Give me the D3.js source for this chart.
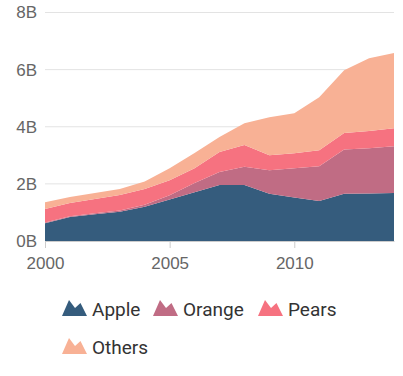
<!DOCTYPE html>
<html><head><meta charset="utf-8">
<script src="https://cdn.jsdelivr.net/npm/d3@7"></script>
<style>body{margin:0;background:#fff;}svg{display:block;font-family:Roboto,sans-serif;}</style>
</head><body><svg id="c" width="403" height="376"></svg>
<script>
const years = [2000,2001,2002,2003,2004,2005,2006,2007,2008,2009,2010,2011,2012,2013,2014];
const apple  = [0.62,0.84,0.94,1.02,1.20,1.45,1.71,1.96,1.96,1.65,1.52,1.40,1.65,1.66,1.68];
const orange = [0.03,0.03,0.03,0.05,0.07,0.15,0.32,0.46,0.64,0.83,1.03,1.22,1.55,1.59,1.64];
const pears  = [0.47,0.46,0.50,0.54,0.55,0.53,0.52,0.70,0.76,0.52,0.52,0.56,0.58,0.60,0.63];
const others = [0.24,0.21,0.21,0.21,0.26,0.42,0.53,0.52,0.76,1.33,1.40,1.85,2.20,2.55,2.63];
const seriesNames = ["Apple","Orange","Pears","Others"];
const colors = ["#355C7D","#C06C84","#F67280","#F8B195"];
const yTicks = [0,2,4,6,8];
const xTicks = [2000,2005,2010];

const svg = d3.select("#c");
const x = d3.scaleLinear().domain([2000,2014]).range([45,394]);
const y = d3.scaleLinear().domain([0,8]).range([241,12.5]);

const rows = years.map((yr,i)=>({year:yr, Apple:apple[i], Orange:orange[i], Pears:pears[i], Others:others[i]}));
const stacked = d3.stack().keys(seriesNames)(rows);

// grid + y labels
const yAxis = d3.axisLeft(y).tickValues(yTicks).tickFormat(d=>d+"B").tickSize(0).tickPadding(8);
const gy = svg.append("g").attr("transform","translate(45,0)").call(yAxis);
gy.select(".domain").remove();
gy.selectAll("text").attr("fill","#666").style("font-size","17px");
svg.append("g").selectAll("line").data(yTicks.filter(d=>d>0)).join("line")
  .attr("x1",45).attr("x2",394).attr("y1",d=>y(d)).attr("y2",d=>y(d))
  .attr("stroke","#e3e3e3").attr("stroke-width",1);

// areas
const area = d3.area().x(d=>x(d.data.year)).y0(d=>y(d[0])).y1(d=>y(d[1]));
svg.append("g").selectAll("path").data(stacked).join("path")
  .attr("d",area).attr("fill",(d,i)=>colors[i]);

// x axis
const xAxis = d3.axisBottom(x).tickValues(xTicks).tickFormat(d3.format("d")).tickSize(7).tickPadding(9).tickSizeOuter(0);
const gx = svg.append("g").attr("transform","translate(0,241)").call(xAxis);
gx.select(".domain").attr("stroke","#ccc");
gx.selectAll(".tick line").attr("stroke","#ccc");
gx.selectAll("text").attr("fill","#666").style("font-size","17px");

// legend
const legendPos = [[62,316],[153,316],[258,316],[62,354]];
const lg = svg.append("g").selectAll("g").data(seriesNames).join("g")
  .attr("transform",(d,i)=>`translate(${legendPos[i][0]},${legendPos[i][1]})`);
lg.append("path").attr("d","M0,0 L7,-16 L13,-8 L18.5,-13 L25,0 Z").attr("fill",(d,i)=>colors[i]);
lg.append("text").attr("x",30).attr("y",0).text(d=>d).attr("fill","#333").style("font-size","19px");
</script></body></html>
